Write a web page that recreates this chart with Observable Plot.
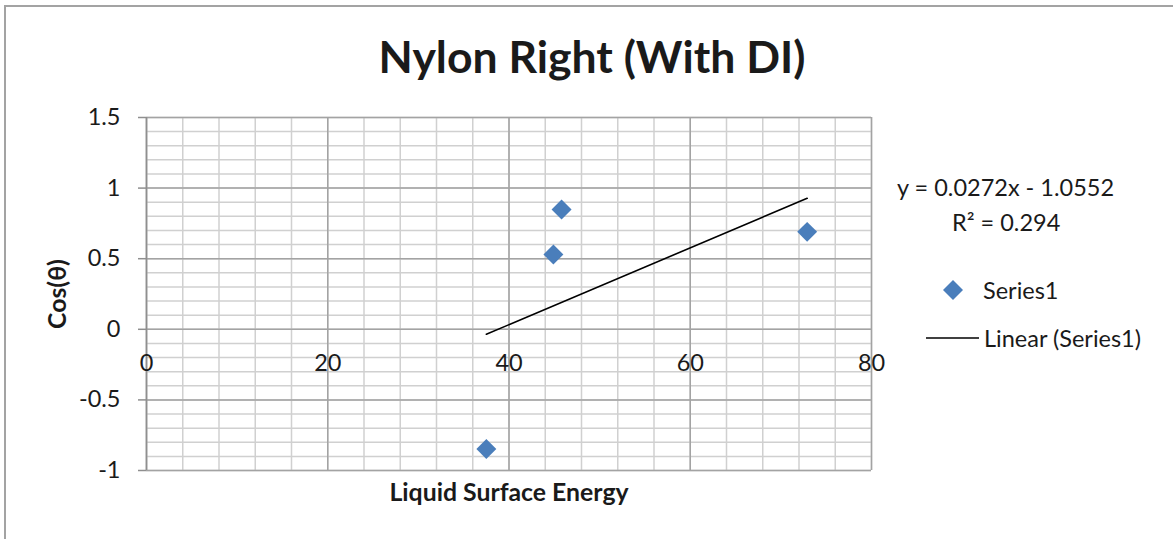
<!DOCTYPE html>
<html>
<head>
<meta charset="utf-8">
<script src="https://cdn.jsdelivr.net/npm/d3@7"></script>
<script src="https://cdn.jsdelivr.net/npm/@observablehq/plot@0.6"></script>
<style>
  body { margin: 0; background: #fff; }
  #wrap { position: relative; width: 1173px; height: 539px; overflow: hidden; font-family: Lato, "Open Sans", sans-serif; color: #1a1a1a; }
  #frame { position: absolute; left: 4px; top: 5px; width: 1300px; height: 700px; border-left: 2px solid #a3a3a3; border-top: 2px solid #a3a3a3; box-sizing: border-box; }
  #chart { position: absolute; left: 0; top: 0; }
  .lg { position: absolute; font-size: 23.5px; line-height: 24px; white-space: nowrap; }
  .lg svg { position: absolute; }
</style>
</head>
<body>
<div id="wrap">
  <div id="frame"></div>
  <div id="chart"></div>
  <div id="legend"></div>
</div>
<script>
// ---- data ----
const xValues = [37.5, 44.9, 45.8, 72.9];        // Liquid Surface Energy
const yValues = [-0.847, 0.53, 0.848, 0.69];      // Cos(θ)
const seriesName = "Series1";
const trendSlope = 0.0272;
const trendIntercept = -1.0552;
const trendR2 = 0.294;
const xTicks = [0, 20, 40, 60, 80];
const yTicks = [-1, -0.5, 0, 0.5, 1, 1.5];
const xMinorTicks = [0, 4, 8, 12, 16, 20, 24, 28, 32, 36, 40, 44, 48, 52, 56, 60, 64, 68, 72, 76, 80];
const yMinorTicks = [-1, -0.9, -0.8, -0.7, -0.6, -0.5, -0.4, -0.3, -0.2, -0.1, 0, 0.1, 0.2, 0.3, 0.4, 0.5, 0.6, 0.7, 0.8, 0.9, 1, 1.1, 1.2, 1.3, 1.4, 1.5];
const titleText = "Nylon Right (With DI)";
const xLabel = "Liquid Surface Energy";
const yLabel = "Cos(θ)";

const points = xValues.map((x, i) => ({x, y: yValues[i]}));
const xExtent = d3.extent(xValues);
const trend = xExtent.map(x => ({x, y: trendSlope * x + trendIntercept}));

const blue = "#4a7ebb";
const font = "Lato, 'Open Sans', sans-serif";

const chart = Plot.plot({
  width: 1173,
  height: 539,
  marginLeft: 146,
  marginRight: 302,
  marginTop: 117,
  marginBottom: 69,
  style: {fontFamily: font, fontSize: "23px", color: "#1a1a1a", background: "transparent"},
  x: {domain: [0, 80], axis: null},
  y: {domain: [-1, 1.5], axis: null},
  marks: [
    Plot.ruleX(xMinorTicks, {stroke: "#d0d0d0", strokeWidth: 1.5}),
    Plot.ruleY(yMinorTicks, {stroke: "#d0d0d0", strokeWidth: 1.5}),
    Plot.ruleX(xTicks, {stroke: "#a3a3a3", strokeWidth: 1.5}),
    Plot.ruleY(yTicks, {stroke: "#a3a3a3", strokeWidth: 1.5}),
    Plot.ruleX([0], {stroke: "#8f8f8f", strokeWidth: 1.5}),
    Plot.axisY({ticks: yTicks, tickSize: 8, tickPadding: 18, tickFormat: d => String(d),
      fontSize: 23.5, stroke: "#8f8f8f", strokeWidth: 1.5, fill: "#1a1a1a", label: null}),
    Plot.text(xTicks, {x: d => d, y: () => 0, dy: 34, text: d => String(d), fontSize: 23.5, fill: "#1a1a1a"}),
    Plot.line(trend, {x: "x", y: "y", stroke: "#000", strokeWidth: 1.6}),
    Plot.dot(points, {x: "x", y: "y", symbol: "diamond2", r: 9, fill: blue, stroke: "none"}),
    Plot.text([titleText], {text: d => d, frameAnchor: "top", textAnchor: "middle", dx: 83, dy: -59, lineAnchor: "middle",
      fontSize: 44.5, fontWeight: "bold", fill: "#1a1a1a"}),
    Plot.text([xLabel], {text: d => d, frameAnchor: "bottom", textAnchor: "middle", dx: 0, dy: 23, lineAnchor: "middle",
      fontSize: 24.8, fontWeight: "bold", fill: "#1a1a1a"}),
    Plot.text([yLabel], {text: d => d, frameAnchor: "left", textAnchor: "middle", dx: -88, dy: 0, rotate: -90, lineAnchor: "middle",
      fontSize: 24.8, fontWeight: "bold", fill: "#1a1a1a"})
  ]
});
document.getElementById("chart").append(chart);

// ---- legend / trendline label (HTML overlay) ----
const lg = document.getElementById("legend");
lg.innerHTML = `
  <div class="lg" style="left:897px; top:175px;">y = ${trendSlope}x - ${Math.abs(trendIntercept)}</div>
  <div class="lg" style="left:952px; top:210px;">R² = ${trendR2}</div>
  <div class="lg" style="left:941px; top:278px; width:24px; height:24px;">
    <svg width="24" height="24" style="left:0;top:0"><path d="M12,2 L22,12 L12,22 L2,12 Z" fill="${blue}"/></svg>
  </div>
  <div class="lg" style="left:983px; top:278px;">${seriesName}</div>
  <div class="lg" style="left:926px; top:328px; width:54px; height:20px;">
    <svg width="54" height="20" style="left:0;top:0"><line x1="0" y1="10" x2="53" y2="10" stroke="#000" stroke-width="1.6"/></svg>
  </div>
  <div class="lg" style="left:984px; top:326px;">Linear (${seriesName})</div>
`;
</script>
</body>
</html>
